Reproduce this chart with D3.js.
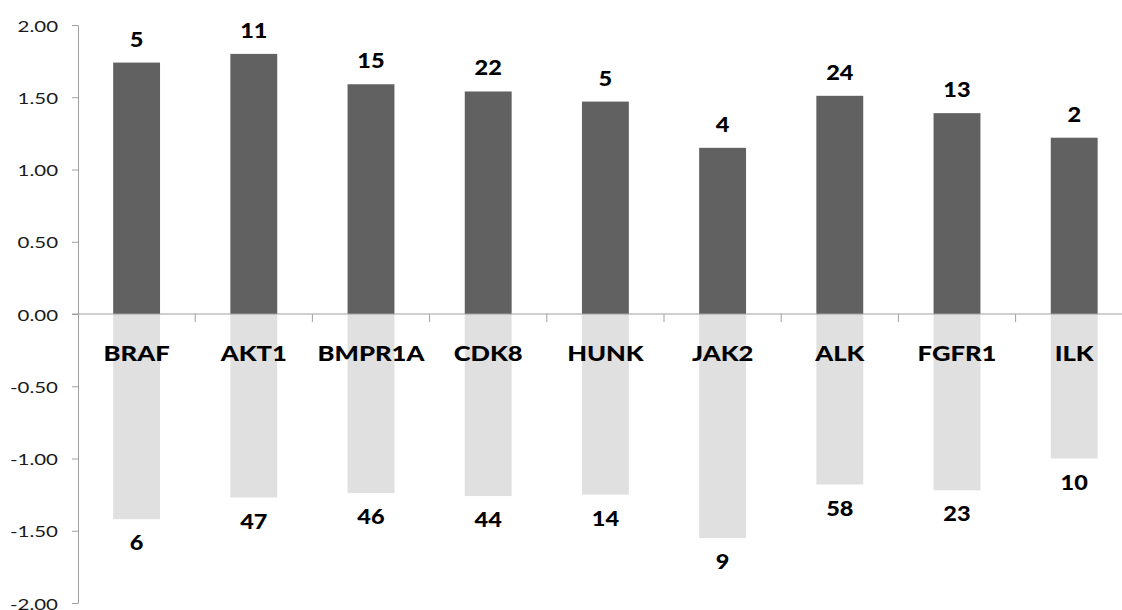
<!DOCTYPE html>
<html>
<head>
<meta charset="utf-8">
<script src="https://cdn.jsdelivr.net/npm/d3@7"></script>
<style>
  body { margin: 0; background: #fff; }
  svg { display: block; }
</style>
</head>
<body>
<svg id="grafica"></svg>
<script>
// datos
const genes = ["BRAF", "AKT1", "BMPR1A", "CDK8", "HUNK", "JAK2", "ALK", "FGFR1", "ILK"];
const valoresArriba = [1.74, 1.80, 1.59, 1.54, 1.47, 1.15, 1.51, 1.39, 1.22];
const valoresAbajo = [-1.42, -1.27, -1.24, -1.26, -1.25, -1.55, -1.18, -1.22, -1.00];
const cuentasArriba = [5, 11, 15, 22, 5, 4, 24, 13, 2];
const cuentasAbajo = [6, 47, 46, 44, 14, 9, 58, 23, 10];
const ticksY = [-2, -1.5, -1, -0.5, 0, 0.5, 1, 1.5, 2];

const width = 1122;
const height = 610;
const ejeX = 78;
const paso = 117.2;

const svg = d3.select("#grafica")
  .attr("width", width)
  .attr("height", height);

const y = d3.scaleLinear().domain([-2, 2]).range([603, 25]);
const x = d3.scaleBand()
  .domain(genes)
  .range([ejeX, ejeX + paso * genes.length])
  .paddingInner(0.6)
  .paddingOuter(0.3);

const fmt = v => (v < 0 ? "-" : "") + Math.abs(v).toFixed(2);

// barras de abajo
svg.append("g").selectAll("rect")
  .data(genes)
  .join("rect")
  .attr("x", d => x(d))
  .attr("width", x.bandwidth())
  .attr("y", y(0))
  .attr("height", (d, i) => y(valoresAbajo[i]) - y(0))
  .attr("fill", "#e0e0e0");

// barras de arriba
svg.append("g").selectAll("rect")
  .data(genes)
  .join("rect")
  .attr("x", d => x(d))
  .attr("width", x.bandwidth())
  .attr("y", (d, i) => y(valoresArriba[i]))
  .attr("height", (d, i) => y(0) - y(valoresArriba[i]))
  .attr("fill", "#616161");

// eje y
const ejeY = svg.append("g")
  .attr("transform", `translate(${ejeX},0)`)
  .call(d3.axisLeft(y).tickValues(ticksY).tickFormat(fmt).tickSize(6).tickSizeOuter(0));
ejeY.select(".domain").attr("stroke", "#a0a0a0");
ejeY.selectAll(".tick line").attr("stroke", "#a0a0a0");
ejeY.selectAll(".tick text")
  .attr("x", 0)
  .attr("dy", null)
  .attr("y", 0)
  .attr("text-anchor", "end")
  .attr("transform", "translate(-20,6) scale(1.28,1)")
  .attr("fill", "#1a1a1a")
  .style("font-family", "Lato")
  .style("font-size", "16px");

// linea del cero y marcas de categoria
svg.append("line")
  .attr("x1", ejeX - 6).attr("x2", width)
  .attr("y1", y(0)).attr("y2", y(0))
  .attr("stroke", "#a0a0a0");

svg.append("g").selectAll("line")
  .data(genes.slice(1))
  .join("line")
  .attr("x1", d => x(d) - x.step() * 0.3)
  .attr("x2", d => x(d) - x.step() * 0.3)
  .attr("y1", y(0))
  .attr("y2", y(0) + 8)
  .attr("stroke", "#a0a0a0");

// nombres
svg.append("g").selectAll("text")
  .data(genes)
  .join("text")
  .attr("transform", d => `translate(${x(d) + x.bandwidth() / 2},${y(0) + 47}) scale(1.22,1)`)
  .attr("text-anchor", "middle")
  .style("font-family", "Lato")
  .style("font-weight", "900")
  .style("font-size", "21px")
  .text(d => d);

// etiquetas de cuentas
svg.append("g").selectAll("text")
  .data(genes)
  .join("text")
  .attr("transform", (d, i) => `translate(${x(d) + x.bandwidth() / 2},${y(valoresArriba[i]) - 16}) scale(1.12,1)`)
  .attr("text-anchor", "middle")
  .style("font-family", "Lato")
  .style("font-weight", "900")
  .style("font-size", "21px")
  .text((d, i) => cuentasArriba[i]);

svg.append("g").selectAll("text")
  .data(genes)
  .join("text")
  .attr("transform", (d, i) => `translate(${x(d) + x.bandwidth() / 2},${y(valoresAbajo[i]) + 31}) scale(1.12,1)`)
  .attr("text-anchor", "middle")
  .style("font-family", "Lato")
  .style("font-weight", "900")
  .style("font-size", "21px")
  .text((d, i) => cuentasAbajo[i]);
</script>
</body>
</html>
